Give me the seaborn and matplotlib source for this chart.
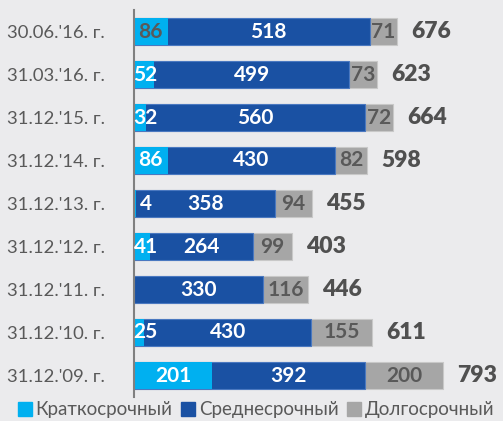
import matplotlib
matplotlib.use("Agg")
import matplotlib.pyplot as plt
from matplotlib.lines import Line2D
import seaborn as sns
import pandas as pd
import numpy as np

# data (top to bottom)
periods = ["30.06.'16. г.", "31.03.'16. г.", "31.12.'15. г.", "31.12.'14. г.",
           "31.12.'13. г.", "31.12.'12. г.", "31.12.'11. г.", "31.12.'10. г.",
           "31.12.'09. г."]
short_term = [86, 52, 32, 86, 4, 41, 0, 25, 201]
mid_term = [518, 499, 560, 430, 358, 264, 330, 430, 392]
long_term = [71, 73, 72, 82, 94, 99, 116, 155, 200]
totals = [676, 623, 664, 598, 455, 403, 446, 611, 793]
series_names = ["Краткосрочный", "Среднесрочный", "Долгосрочный"]

c_short = "#00B0F0"
c_mid = "#1A51A3"
c_long = "#A6A6A6"
txt = "#595959"

sns.set_style("white")
plt.rcParams["font.family"] = ["Lato", "DejaVu Sans"]

df = pd.DataFrame({"period": periods, "short": short_term,
                   "mid": mid_term, "long": long_term, "total": totals})
df["cum2"] = df["short"] + df["mid"]
df["cum3"] = df["cum2"] + df["long"]

fig = plt.figure(figsize=(5.03, 4.21), dpi=100)
fig.patch.set_facecolor("#EBEBED")
ax = fig.add_axes([134 / 503, 1 - 397 / 421, 1 - 134 / 503, 387 / 421])
ax.set_facecolor("#EBEBED")

w = 0.65
sns.barplot(data=df, x="cum3", y="period", color=c_long, width=w, saturation=1,
            edgecolor="#C8C8C8", linewidth=0.8, ax=ax)
sns.barplot(data=df, x="cum2", y="period", color=c_mid, width=w, saturation=1,
            edgecolor="#4A78C0", linewidth=0.8, ax=ax)
sns.barplot(data=df, x="short", y="period", color=c_short, width=w, saturation=1,
            edgecolor="#40C8F8", linewidth=0.0, ax=ax)

lab_kw = dict(ha="center", va="center", fontsize=15, fontweight="bold")
for i, r in df.iterrows():
    if r["short"] > 0:
        col = txt if i == 0 else "white"
        ax.text(max(r["short"] / 2, 30), i, str(r["short"]), color=col, **lab_kw)
    ax.text(r["short"] + r["mid"] / 2, i, str(r["mid"]), color="white", **lab_kw)
    ax.text(r["cum2"] + r["long"] / 2, i, str(r["long"]), color=txt, **lab_kw)
    ax.text(r["cum3"] + 36, i, str(r["total"]), color="#505050", ha="left",
            va="center", fontsize=16.5, fontweight="heavy")

ax.set_xlim(0, 946)
ax.set_ylim(len(periods) - 0.5, -0.5)
ax.set_xlabel("")
ax.set_ylabel("")
ax.set_xticks([])
ax.set_yticks(np.arange(-0.5, len(periods)), labels=[])
ax.set_yticks(np.arange(len(periods)), labels=periods, minor=True)
ax.tick_params(axis="y", which="major", length=7, width=1.2, color="#808080")
ax.tick_params(axis="y", which="minor", length=0, pad=21, labelsize=13.3,
               labelcolor=txt)
for s in ["top", "right", "bottom"]:
    ax.spines[s].set_visible(False)
ax.spines["left"].set_color("#808080")
ax.spines["left"].set_linewidth(1.5)

handles = [Line2D([], [], marker="s", linestyle="", markersize=10, color=c)
           for c in (c_short, c_mid, c_long)]
fig.legend(handles, series_names, loc="center", bbox_to_anchor=(0.51, 1 - 410 / 421),
           ncol=3, frameon=False, fontsize=13.5, labelcolor=txt, handlelength=0.7,
           handletextpad=0.2, columnspacing=0.5)

fig.savefig("out.png", dpi=100, facecolor=fig.get_facecolor())
